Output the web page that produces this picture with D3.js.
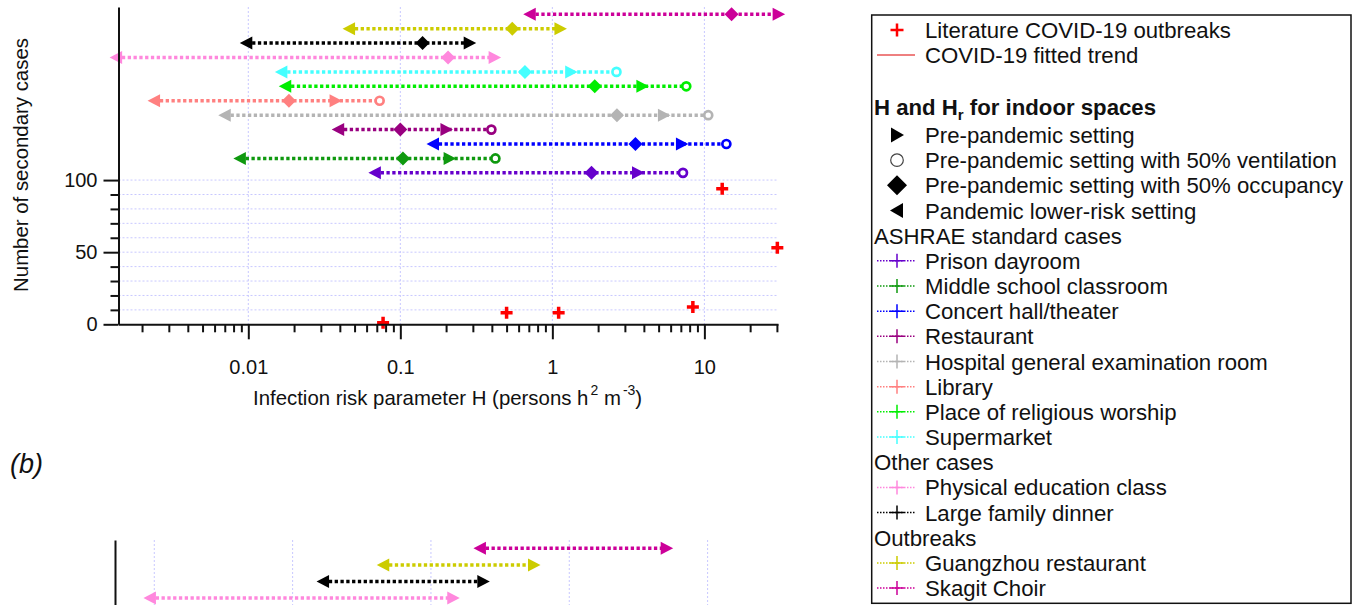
<!DOCTYPE html>
<html>
<head>
<meta charset="utf-8">
<script src="https://cdn.jsdelivr.net/npm/d3@7/dist/d3.min.js"></script>
<style>
body { margin: 0; background: #fff; }
svg { display: block; font-family: "Liberation Sans", Arial, sans-serif; }
</style>
</head>
<body>
<script>
// ---- data ----
const spaces = ["Prison dayroom", "Middle school classroom", "Concert hall/theater", "Restaurant",
    "Hospital general examination room", "Library", "Place of religious worship", "Supermarket",
    "Physical education class", "Large family dinner", "Guangzhou restaurant", "Skagit Choir"];
const spaceColors = ["#6600cc", "#0f990f", "#0000ff", "#990080", "#b4b4b4", "#ff8080",
    "#00ee00", "#44ffff", "#ff88dd", "#000000", "#cccc00", "#cc0099"];
const rowLevel = [105, 115, 125, 135, 145, 155, 165, 175, 185, 195, 205, 215];
// H values per setting
const lowerRisk       = [0.068, 0.0088, 0.164, 0.039, 0.0070, 0.0024, 0.0175, 0.0165, 0.00135, 0.0097, 0.046, 0.71];
const halfOccupancy   = [1.81, 0.104, 3.52, 0.100, 2.66, 0.0185, 1.90, 0.66, 0.206, 0.14, 0.545, 15.1];
const prePandemic     = [3.66, 0.211, 7.12, 0.201, 5.42, 0.0375, 3.91, 1.33, 0.417, 0.286, 1.13, 30.8];
const halfVentilation = [7.23, 0.422, 13.95, 0.397, 10.6, 0.0731, 7.6, 2.64, null, null, null, null];

// literature outbreaks
const outbreakH     = [0.077, 0.50, 1.10, 8.4, 13.1, 30.2];
const outbreakCases = [1, 8, 8, 12, 94, 53];

const xTickValues = [0.01, 0.1, 1, 10];
const xTickLabels = ["0.01", "0.1", "1", "10"];
const yTickValues = [0, 50, 100];

// panel (b), only the top rows are visible
const panelBSpaces = ["Physical education class", "Large family dinner", "Guangzhou restaurant", "Skagit Choir"];
const panelBLevel = [185, 195, 205, 215];
const panelBLow = [0.00093, 0.0166, 0.0452, 0.226];
const panelBPre = [0.145, 0.239, 0.556, 5.06];
const panelBGrid = [0.001, 0.01, 0.1, 1, 10];

const legendGroups = [
    { title: "ASHRAE standard cases", items: spaces.slice(0, 8) },
    { title: "Other cases", items: spaces.slice(8, 10) },
    { title: "Outbreaks", items: spaces.slice(10, 12) }
];

// ---- setup ----
const W = 1362, H = 605;
const svg = d3.select("body").append("svg").attr("width", W).attr("height", H);
const gridColor = "#c8c8ff";
const colorOf = name => spaceColors[spaces.indexOf(name)];

const triPath = (dir) => dir > 0 ? "M-6,-6.5L6.5,0L-6,6.5Z" : "M6,-6.5L-6.5,0L6,6.5Z";
const diamondPath = "M0,-7L7,0L0,7L-7,0Z";
const plusPath = s => `M${-s},0H${s}M0,${-s}V${s}`;

// ---- panel (a) ----
const x = d3.scaleLog().domain([0.0014, 30.5]).range([118.5, 778]);
const y = d3.scaleLinear().domain([0, 220]).range([324.3, 7]);

const grid = svg.append("g");
grid.selectAll(".hg").data(d3.range(10, 101, 10)).join("line")
    .attr("x1", x.range()[0]).attr("x2", x.range()[1])
    .attr("y1", d => y(d)).attr("y2", d => y(d))
    .attr("stroke", gridColor).attr("stroke-width", 1).attr("stroke-dasharray", "2,2");
grid.selectAll(".vg").data(xTickValues).join("line")
    .attr("x1", d => x(d)).attr("x2", d => x(d))
    .attr("y1", y(220)).attr("y2", y(0))
    .attr("stroke", gridColor).attr("stroke-width", 1).attr("stroke-dasharray", "2,2");

function drawRows(g, xs, ys, rows) {
    rows.forEach(r => {
        const vals = [r.low, r.occ, r.pre, r.vent].filter(v => v != null);
        const row = g.append("g").attr("transform", `translate(0,${ys(r.level)})`);
        row.append("line")
            .attr("x1", xs(d3.min(vals))).attr("x2", xs(d3.max(vals)))
            .attr("stroke", r.color).attr("stroke-width", 3.5).attr("stroke-dasharray", "3.3,2.5");
        row.append("path").attr("d", triPath(-1)).attr("fill", r.color)
            .attr("transform", `translate(${xs(r.low)},0)`);
        if (r.occ != null) row.append("path").attr("d", diamondPath).attr("fill", r.color)
            .attr("transform", `translate(${xs(r.occ)},0)`);
        row.append("path").attr("d", triPath(1)).attr("fill", r.color)
            .attr("transform", `translate(${xs(r.pre)},0)`);
        if (r.vent != null) row.append("circle").attr("cx", xs(r.vent)).attr("r", 4)
            .attr("fill", "#fff").attr("stroke", r.color).attr("stroke-width", 2.7);
    });
}

drawRows(svg.append("g"), x, y, spaces.map((s, i) => ({
    level: rowLevel[i], color: spaceColors[i],
    low: lowerRisk[i], occ: halfOccupancy[i], pre: prePandemic[i], vent: halfVentilation[i]
})));

svg.append("g").selectAll("path").data(outbreakH).join("path")
    .attr("d", plusPath(6))
    .attr("transform", (d, i) => `translate(${x(d)},${y(outbreakCases[i])})`)
    .attr("stroke", "#ff0000").attr("stroke-width", 3.5);

// axes
const minorX = [];
for (let e = -3; e <= 1; e++) for (let m = 2; m <= 9; m++) {
    const v = m * Math.pow(10, e);
    if (v > x.domain()[0] && v <= x.domain()[1]) minorX.push(v);
}
function styleAxis(g) {
    g.selectAll("path,line").attr("stroke", "#111").attr("stroke-width", 2);
    g.selectAll("text").attr("fill", "#111").style("font-size", "20px")
        .style("font-family", "'Liberation Sans', Arial, sans-serif");
}
svg.append("g").attr("transform", `translate(0,${y(0)})`)
    .call(d3.axisBottom(x).tickValues(minorX).tickFormat("").tickSize(8).tickSizeOuter(0))
    .call(styleAxis).call(g => g.select(".domain").remove());
svg.append("g").attr("transform", `translate(0,${y(0)})`)
    .call(d3.axisBottom(x).tickValues(xTickValues).tickFormat((d, i) => xTickLabels[i])
        .tickSize(15).tickSizeOuter(0).tickPadding(21))
    .call(styleAxis);
svg.append("g").attr("transform", `translate(${x.range()[0]},0)`)
    .call(d3.axisLeft(y).tickValues(d3.range(10, 100, 10).filter(v => v !== 50)).tickFormat("").tickSize(8))
    .call(styleAxis).call(g => g.select(".domain").remove());
svg.append("g").attr("transform", `translate(${x.range()[0]},0)`)
    .call(d3.axisLeft(y).tickValues(yTickValues).tickSize(15).tickSizeOuter(0).tickPadding(6))
    .call(styleAxis);

const xTitle = svg.append("text").attr("x", 253).attr("y", 405)
    .attr("font-size", 20.4).attr("fill", "#111");
xTitle.append("tspan").text("Infection risk parameter H (persons h");
xTitle.append("tspan").attr("dy", -10).attr("dx", 2).attr("font-size", 14).text("2");
xTitle.append("tspan").attr("dy", 10).text(" m");
xTitle.append("tspan").attr("dy", -10).attr("dx", 2).attr("font-size", 14).text("-3");
xTitle.append("tspan").attr("dy", 10).text(")");

svg.append("text").attr("transform", "translate(28,165) rotate(-90)")
    .attr("text-anchor", "middle").attr("font-size", 20.4).attr("fill", "#111")
    .text("Number of secondary cases");

// ---- panel (b) label and top of panel ----
svg.append("text").attr("x", 10).attr("y", 473).attr("font-size", 27)
    .attr("font-style", "italic").attr("fill", "#111").text("(b)");

const xb = d3.scaleLog().domain([0.00052, 30]).range([115, 773.6]);
const yb = d3.scaleLinear().domain([0, 220]).range([905, 540]);

svg.append("g").selectAll("line").data(panelBGrid).join("line")
    .attr("x1", d => xb(d)).attr("x2", d => xb(d))
    .attr("y1", yb(220)).attr("y2", H)
    .attr("stroke", gridColor).attr("stroke-width", 1).attr("stroke-dasharray", "2,2");

drawRows(svg.append("g"), xb, yb, panelBSpaces.map((s, i) => ({
    level: panelBLevel[i], color: colorOf(s),
    low: panelBLow[i], occ: null, pre: panelBPre[i], vent: null
})));

svg.append("g").attr("transform", `translate(${xb.range()[0]},0)`)
    .call(d3.axisLeft(yb).tickValues([]).tickSizeOuter(0))
    .call(styleAxis);

// ---- legend ----
const lg = svg.append("g");
lg.append("rect").attr("x", 871.7).attr("y", 15).attr("width", 479.3).attr("height", 588.3)
    .attr("fill", "#fff").attr("stroke", "#111").attr("stroke-width", 1.5);

const symX = 897, textX = 925, headX = 874, fs = 22.2;
function legendText(cy, txt, xPos) {
    return lg.append("text").attr("x", xPos).attr("y", cy + 8).attr("font-size", fs)
        .attr("fill", "#111").text(txt);
}
// outbreaks + trend
lg.append("path").attr("d", plusPath(6.5)).attr("transform", `translate(${symX},30)`)
    .attr("stroke", "#ff0000").attr("stroke-width", 2.5);
legendText(30, "Literature COVID-19 outbreaks", textX);
lg.append("line").attr("x1", 877).attr("x2", 915).attr("y1", 55).attr("y2", 55)
    .attr("stroke", "#dd0000").attr("stroke-width", 1);
legendText(55, "COVID-19 fitted trend", textX);

const head = lg.append("text").attr("x", headX).attr("y", 107 + 8).attr("font-size", fs)
    .attr("font-weight", "bold").attr("fill", "#111");
head.append("tspan").text("H and H");
head.append("tspan").attr("dy", 5).attr("font-size", 15).text("r");
head.append("tspan").attr("dy", -5).text(" for indoor spaces");

const step = 25.17;
let cy = 135;
const markerRows = [
    { label: "Pre-pandemic setting", draw: g => g.append("path").attr("d", "M-6,-7.5L7,0L-6,7.5Z").attr("fill", "#000") },
    { label: "Pre-pandemic setting with 50% ventilation", draw: g => g.append("circle").attr("r", 6.3).attr("fill", "#fff").attr("stroke", "#444").attr("stroke-width", 1.2) },
    { label: "Pre-pandemic setting with 50% occupancy", draw: g => g.append("path").attr("d", "M0,-10L10,0L0,10L-10,0Z").attr("fill", "#000") },
    { label: "Pandemic lower-risk setting", draw: g => g.append("path").attr("d", "M6,-7.5L-7,0L6,7.5Z").attr("fill", "#000") }
];
markerRows.forEach(m => {
    m.draw(lg.append("g").attr("transform", `translate(${symX},${cy})`));
    legendText(cy, m.label, textX);
    cy += step;
});
legendGroups.forEach(grp => {
    legendText(cy, grp.title, headX);
    cy += step;
    grp.items.forEach(name => {
        const c = colorOf(name);
        const g = lg.append("g").attr("transform", `translate(${symX},${cy})`);
        g.append("line").attr("x1", -20).attr("x2", 18).attr("stroke", c)
            .attr("stroke-width", 1.5).attr("stroke-dasharray", "1.5,1.5");
        g.append("path").attr("d", plusPath(7)).attr("stroke", c).attr("stroke-width", 1.5);
        legendText(cy, name, textX);
        cy += step;
    });
});
</script>
</body>
</html>
